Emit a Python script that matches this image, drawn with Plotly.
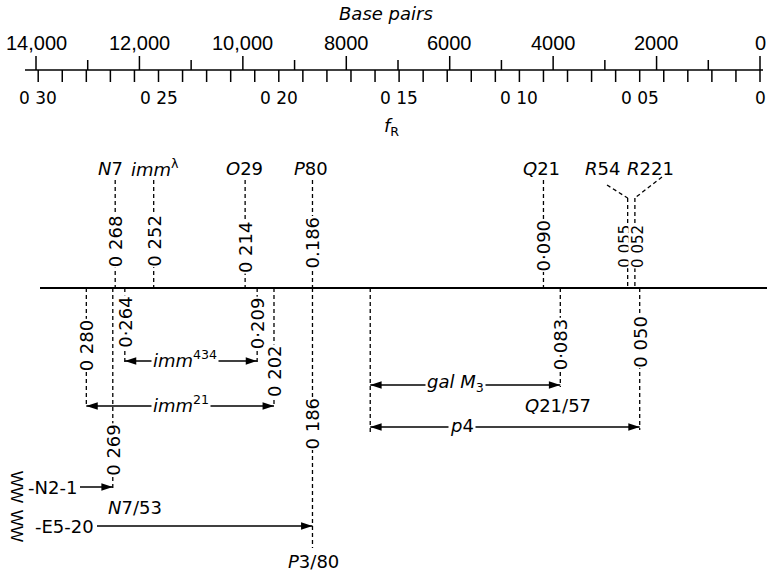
import plotly.graph_objects as go

# ---------------- data ----------------
bp_ticks = [14000, 12000, 10000, 8000, 6000, 4000, 2000, 0]
bp_labels = ["14,000", "12,000", "10,000", "8000", "6000", "4000", "2000", "0"]
bp_minor = [13000, 11000, 9000, 7000, 5000, 3000, 1000]
fr_ticks = [0.30, 0.25, 0.20, 0.15, 0.10, 0.05, 0.0]
fr_labels = ["0 30", "0 25", "0 20", "0 15", "0 10", "0 05", "0"]
fr_minor = [round(i * 0.01, 2) for i in range(31)]

upper_names = ["<i>N</i>7", "<i>imm</i><sup>λ</sup>", "<i>O</i>29", "<i>P</i>80",
               "<i>Q</i>21", "<i>R</i>54", "<i>R</i>221"]
upper_fr = [0.268, 0.252, 0.214, 0.186, 0.090, 0.055, 0.052]
upper_vals = ["0 268", "0 252", "0 214", "0.186", "0·090", "0 055", "0 052"]

lower_fr = [0.280, 0.264, 0.209, 0.202, 0.269, 0.186, 0.083, 0.050]
lower_vals = ["0 280", "0·264", "0·209", "0 202", "0 269", "0 186", "0·083", "0 050"]
gal_p4_start_fr = 0.162

interval_names = ["<i>imm</i><sup>434</sup>", "<i>imm</i><sup>21</sup>",
                  "<i>gal M</i><sub>3</sub>", "<i>p</i>4"]
interval_left = [0.264, 0.280, 0.162, 0.162]
interval_right = [0.209, 0.202, 0.083, 0.050]

deletion_names = ["-N2-1", "-E5-20"]
deletion_end = [0.269, 0.186]
mutant_labels = ["<i>N</i>7/53", "<i>P</i>3/80", "<i>Q</i>21/57"]

# ---------------- layout constants ----------------
W, H = 767, 572
PX0, K = 760.0, 2406.0          # pixel of f=0, pixels per unit f_R


def fx(px):                      # pixel -> f_R coordinate
    return (PX0 - px) / K


def bp2f(bp):                    # base pairs -> f_R coordinate on the drawn scale
    return bp * (724.0 / 14000.0) / K


FONT = "DejaVu Sans"
Y_SCALE = 70
Y_MAP = 288
upper_top = [180, 180, 180, 180, 180, 198, 198]
upper_label_px = [110, 155, 244, 311, 541, 602, 650]
upper_val_y = [241, 241, 247, 242, 245, 246, 246]
upper_val_shift = [0, 0, 0, 0, 0, -3, 3]
upper_val_size = [18, 18, 18, 18, 18, 15, 15]
lower_end = [407, 363, 363, 407, 488, 548, 387, 430]
lower_val_y = [345, 322, 323, 371, 450, 423, 344, 342]
interval_y = [361, 406, 385, 427]
interval_label_px = [185, 181, 455, 462]
deletion_y = [487, 526]
deletion_start_px = [80, 97]

fig = go.Figure()


def seg_trace(xs, ys, width=1.5, dash=None):
    line = dict(color="black", width=width)
    if dash:
        line["dash"] = dash
    fig.add_trace(go.Scatter(x=xs, y=ys, mode="lines", line=line,
                             hoverinfo="skip", showlegend=False))


# ---- top scale ----
seg_trace([fx(25), fx(763)], [Y_SCALE, Y_SCALE], width=1.6)
xs, ys = [], []
for b in bp_ticks:
    xs += [bp2f(b), bp2f(b), None]
    ys += [56, Y_SCALE, None]
for b in bp_minor:
    xs += [bp2f(b), bp2f(b), None]
    ys += [60, Y_SCALE, None]
for f in fr_minor:
    xs += [f, f, None]
    ys += [Y_SCALE, 82, None]
seg_trace(xs, ys, width=1.5)

ann = []
for b, t in zip(bp_ticks, bp_labels):
    ann.append(dict(x=bp2f(b), y=43, text=t, showarrow=False,
                    font=dict(family="Liberation Sans", size=20, color="black")))
for f, t in zip(fr_ticks, fr_labels):
    ann.append(dict(x=f, y=98, text=t, showarrow=False,
                    font=dict(family=FONT, size=17, color="black")))
ann.append(dict(x=fx(386), y=13, text="<i>Base pairs</i>", showarrow=False,
                font=dict(family=FONT, size=18, color="black")))
ann.append(dict(x=fx(391), y=127, text="<i>f</i><sub>R</sub>", showarrow=False,
                font=dict(family=FONT, size=18, color="black")))

# ---- main map line ----
seg_trace([fx(40), fx(767)], [Y_MAP, Y_MAP], width=2)

DASH = "4px,3px"
# upper markers
xs, ys = [], []
for f, yt in zip(upper_fr, upper_top):
    xs += [f, f, None]
    ys += [yt, Y_MAP, None]
# R54 / R221 diagonals to labels
xs += [fx(607), upper_fr[5], None, fx(662), upper_fr[6], None]
ys += [185, 198, None, 177, 198, None]
seg_trace(xs, ys, width=1.3, dash=DASH)

for f, name, lp, val, vy, sh, sz in zip(upper_fr, upper_names, upper_label_px, upper_vals,
                                        upper_val_y, upper_val_shift, upper_val_size):
    ann.append(dict(x=fx(lp), y=168, text=name, showarrow=False,
                    font=dict(family=FONT, size=18, color="black")))
    ann.append(dict(x=f, y=vy, text=val, textangle=-90, showarrow=False, xshift=sh,
                    bgcolor="white", borderpad=0,
                    font=dict(family=FONT, size=sz, color="black")))

# lower markers
xs, ys = [], []
for f, ye in zip(lower_fr, lower_end):
    xs += [f, f, None]
    ys += [Y_MAP, ye, None]
xs += [gal_p4_start_fr, gal_p4_start_fr, None]
ys += [Y_MAP, 432, None]
seg_trace(xs, ys, width=1.3, dash=DASH)

for f, val, vy in zip(lower_fr, lower_vals, lower_val_y):
    ann.append(dict(x=f, y=vy, text=val, textangle=-90, showarrow=False,
                    bgcolor="white", borderpad=0,
                    font=dict(family=FONT, size=18, color="black")))

# interval arrows (double headed) and deletion arrows (single headed)
ax_, ay_ = [], []
hx, hy, hang = [], [], []
for name, l, r, y, lp in zip(interval_names, interval_left, interval_right,
                             interval_y, interval_label_px):
    ax_ += [l, r, None]
    ay_ += [y, y, None]
    hx += [l, r]
    hy += [y, y]
    hang += [-90, 90]
    ann.append(dict(x=fx(lp), y=y - 2, text=name, showarrow=False,
                    bgcolor="white", borderpad=1,
                    font=dict(family=FONT, size=18, color="black")))

for name, f, y, sp in zip(deletion_names, deletion_end, deletion_y, deletion_start_px):
    ax_ += [fx(sp), f, None]
    ay_ += [y, y, None]
    hx += [f]
    hy += [y]
    hang += [90]
    ann.append(dict(x=fx(sp - 1), y=y, text=name, showarrow=False, xanchor="right",
                    font=dict(family=FONT, size=18, color="black")))
    ann.append(dict(x=fx(17), y=y, text="WW", textangle=90, showarrow=False,
                    font=dict(family="Liberation Sans", size=17, color="black")))

seg_trace(ax_, ay_, width=1.4)
fig.add_trace(go.Scatter(x=hx, y=hy, mode="markers", hoverinfo="skip", showlegend=False,
                         marker=dict(symbol="arrow", size=12, angle=hang, color="black",
                                     line=dict(width=0))))

# mutant labels
ann.append(dict(x=fx(135), y=507, text=mutant_labels[0], showarrow=False,
                font=dict(family=FONT, size=18, color="black")))
ann.append(dict(x=fx(313), y=561, text=mutant_labels[1], showarrow=False,
                font=dict(family=FONT, size=18, color="black")))
ann.append(dict(x=fx(558), y=405, text=mutant_labels[2], showarrow=False,
                font=dict(family=FONT, size=18, color="black")))

fig.update_layout(
    width=W, height=H,
    margin=dict(l=0, r=0, t=0, b=0),
    paper_bgcolor="white", plot_bgcolor="white",
    xaxis=dict(range=[fx(0), fx(W)], visible=False, fixedrange=True),
    yaxis=dict(range=[H, 0], visible=False, fixedrange=True),
    annotations=ann,
    showlegend=False,
)

fig.write_html("out.html")
